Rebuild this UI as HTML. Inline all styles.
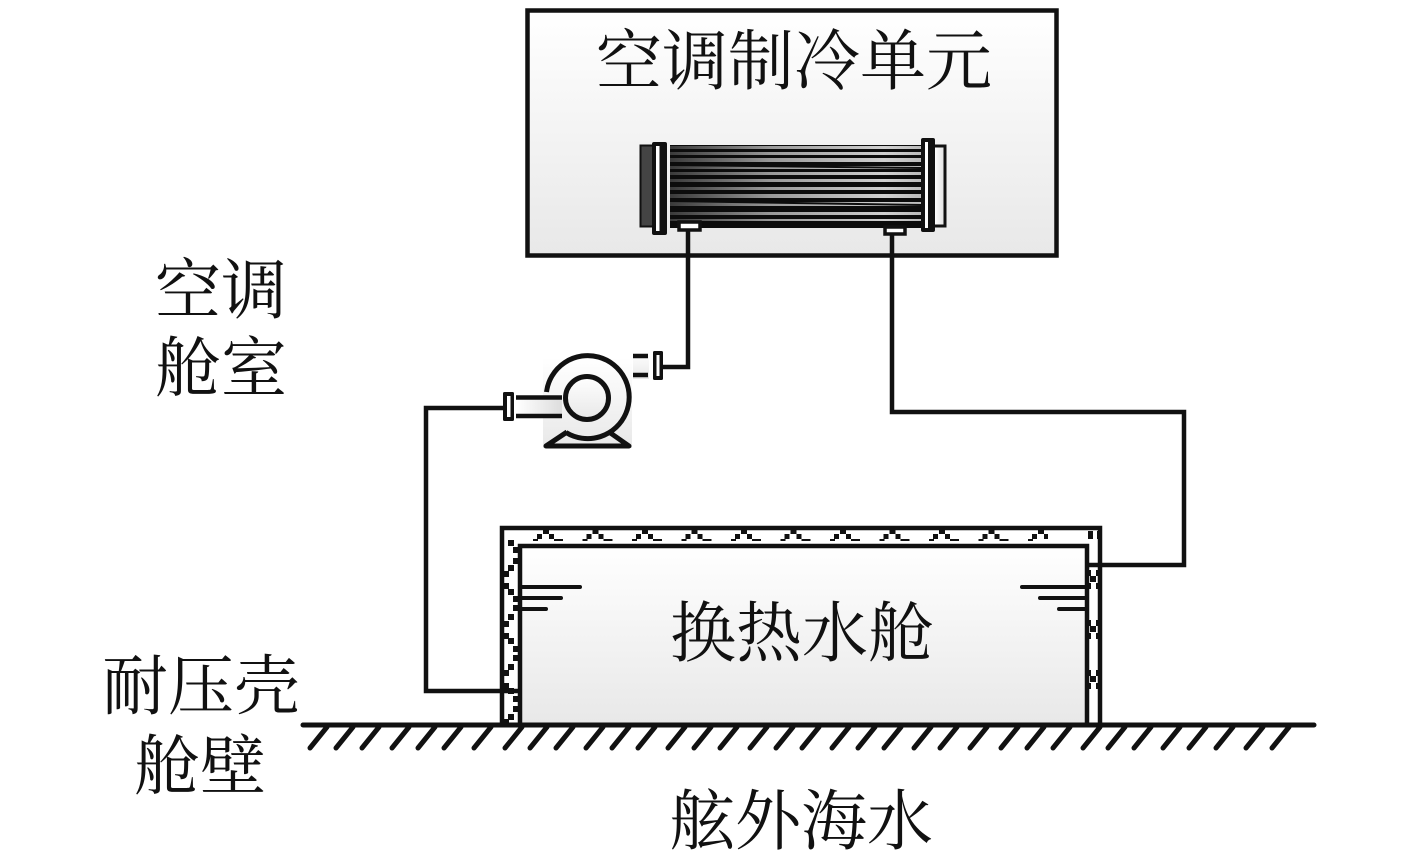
<!DOCTYPE html>
<html>
<head>
<meta charset="utf-8">
<style>
html,body{margin:0;padding:0;background:#fff;}
svg{display:block;}
text{font-family:"Liberation Serif","Noto Serif CJK SC",serif;fill:#111;font-size:66px;}
</style>
</head>
<body>
<svg width="1417" height="860" viewBox="0 0 1417 860" xmlns="http://www.w3.org/2000/svg">
<defs>
<linearGradient id="g" x1="0" y1="0" x2="0" y2="1"><stop offset="0" stop-color="#fff"/><stop offset="1" stop-color="#e8e8e8"/></linearGradient>
<linearGradient id="s" x1="0" y1="0" x2="1" y2="0"><stop offset="0" stop-color="#3a3a3a"/><stop offset="0.4" stop-color="#999"/><stop offset="0.85" stop-color="#d0d0d0"/><stop offset="1" stop-color="#bbb"/></linearGradient>
<linearGradient id="c" x1="0" y1="0" x2="1" y2="0"><stop offset="0" stop-color="#fff"/><stop offset="1" stop-color="#ddd"/></linearGradient>
<pattern id="top" x="533" y="528" width="49.5" height="16" patternUnits="userSpaceOnUse">
<rect x="0" y="11" width="5" height="2" fill="#111"/><rect x="4" y="6" width="5" height="5" fill="#111"/><rect x="10" y="2" width="6" height="4" fill="#111"/><rect x="16" y="6" width="5" height="5" fill="#111"/><rect x="21" y="11" width="9" height="2" fill="#111"/>
</pattern>
</defs>

<!-- top unit -->
<rect x="527.5" y="10.5" width="529" height="245" fill="url(#g)" stroke="#111" stroke-width="4.5"/>
<text x="596" y="84">空调制冷单元</text>

<!-- heat exchanger -->
<rect x="640.5" y="145.500" width="13" height="81" fill="#444" stroke="#111" stroke-width="2"/>
<rect x="670" y="145" width="252" height="83" fill="#0c0c0c"/>
<g fill="url(#s)">
<rect x="670" y="146" width="252" height="3"/>
<rect x="670" y="152" width="252" height="3"/>
<rect x="670" y="158" width="252" height="4"/>
<rect x="670" y="166" width="252" height="3"/>
<rect x="670" y="172" width="252" height="3"/>
<rect x="670" y="179" width="252" height="3"/>
<rect x="670" y="187" width="252" height="3"/>
<rect x="670" y="194" width="252" height="4"/>
<rect x="670" y="202" width="252" height="4"/>
<rect x="670" y="212" width="252" height="3"/>
<rect x="670" y="219" width="252" height="2"/>
</g>
<path d="M670 165L922 168M670 201L922 205" stroke="#0c0c0c" stroke-width="2"/>
<rect x="652" y="142" width="15" height="93" rx="2" fill="#111"/>
<rect x="656" y="146" width="3.500" height="85" fill="#fff"/>
<rect x="921" y="138" width="14" height="94" rx="2" fill="#111"/>
<rect x="925" y="142" width="3" height="86" fill="#fff"/>
<path d="M935 146H945V226H935" fill="url(#c)" stroke="#111" stroke-width="3"/>
<rect x="679" y="222" width="21" height="8" fill="#fff" stroke="#111" stroke-width="3.500"/>
<rect x="885" y="227" width="20" height="7" fill="#fff" stroke="#111" stroke-width="3.500"/>

<!-- pump -->
<rect x="543" y="358" width="89" height="90" fill="url(#g)"/>
<rect x="633" y="353" width="16" height="26" fill="url(#g)"/>
<rect x="516" y="396" width="46" height="21" fill="url(#c)"/>
<path d="M546.500 392A41.500 41.500 0 1 1 566 432.500" fill="none" stroke="#111" stroke-width="5"/>
<circle cx="587" cy="398" r="21.500" fill="url(#g)" stroke="#111" stroke-width="5"/>
<path d="M516 397.500H562M516 416H562" stroke="#111" stroke-width="4.500"/>
<path d="M567 432L546 446H629L609 432" fill="none" stroke="#111" stroke-width="5" stroke-linejoin="round"/>
<rect x="503" y="392" width="11" height="29" rx="1.500" fill="#111"/>
<rect x="507" y="396" width="3.500" height="21" fill="#fff"/>
<rect x="653" y="351" width="10" height="29" rx="1.500" fill="#111"/>
<rect x="656.500" y="355" width="3" height="21" fill="#fff"/>
<path d="M633 356H648M633 375H648" stroke="#111" stroke-width="4.500"/>

<!-- tank -->
<rect x="502" y="528" width="598" height="197" fill="#fff" stroke="#111" stroke-width="4.500"/>
<rect x="520" y="546" width="567" height="179" fill="url(#g)" stroke="#111" stroke-width="4.500"/>
<rect x="533" y="529" width="515" height="15" fill="url(#top)"/>

<!-- left wall hatch -->
<g fill="#111">
<rect x="508" y="540" width="6" height="6"/><rect x="513" y="547" width="6" height="6"/>
<rect x="513" y="558" width="6" height="6"/><rect x="508" y="565" width="6" height="6"/>
<rect x="503" y="571" width="6" height="6"/><rect x="503" y="583" width="6" height="6"/>
<rect x="508" y="589" width="6" height="6"/><rect x="513" y="596" width="6" height="6"/>
<rect x="513" y="605" width="6" height="6"/><rect x="508" y="614" width="6" height="6"/>
<rect x="503" y="621" width="6" height="6"/><rect x="503" y="633" width="6" height="6"/>
<rect x="508" y="638" width="6" height="6"/><rect x="513" y="646" width="6" height="6"/>
<rect x="513" y="655" width="6" height="6"/><rect x="508" y="664" width="6" height="6"/>
<rect x="503" y="670" width="6" height="6"/><rect x="503" y="683" width="6" height="6"/>
<rect x="508" y="688" width="6" height="6"/><rect x="513" y="696" width="6" height="6"/>
<rect x="513" y="706" width="6" height="6"/><rect x="508" y="714" width="6" height="6"/>
<rect x="503" y="719" width="6" height="6"/>
<!-- right wall hatch -->
<rect x="1088" y="531" width="5" height="8"/><rect x="1097" y="531" width="4" height="8"/>
<rect x="1090" y="576" width="6" height="6"/><rect x="1088" y="570" width="3" height="6"/><rect x="1096" y="570" width="4" height="6"/><rect x="1088" y="583" width="3" height="6"/><rect x="1096" y="583" width="4" height="6"/>
<rect x="1090" y="626" width="6" height="6"/><rect x="1088" y="620" width="3" height="6"/><rect x="1096" y="620" width="4" height="6"/><rect x="1088" y="633" width="3" height="6"/><rect x="1096" y="633" width="4" height="6"/>
<rect x="1090" y="676" width="6" height="6"/><rect x="1088" y="670" width="3" height="6"/><rect x="1096" y="670" width="4" height="6"/><rect x="1088" y="683" width="3" height="6"/><rect x="1096" y="683" width="4" height="6"/>
</g>

<!-- pipes -->
<path d="M688 231V367H663" fill="none" stroke="#111" stroke-width="4.500"/>
<path d="M892 234V412H1184V565H1087" fill="none" stroke="#111" stroke-width="4.500"/>
<path d="M503 408H426V691H520" fill="none" stroke="#111" stroke-width="4.500"/>

<!-- water level -->
<path d="M520 587H580M520 598H561M520 609H546M1022 587H1087M1040 598H1087M1059 609H1087" stroke="#111" stroke-width="4" stroke-linecap="round"/>

<!-- ground -->
<path d="M303 725H1314" stroke="#111" stroke-width="5" stroke-linecap="round"/>
<g stroke="#111" stroke-width="5" stroke-linecap="round">
<path d="M310 748l17-21M336 748l17-21M362 748l17-21M392 748l17-21M418 748l17-21M444 748l17-21M474 748l17-21M505 748l17-21M530 748l17-21M556 748l17-21M586 748l17-21M612 748l17-21M638 748l17-21M668 748l17-21M694 748l17-21M720 748l17-21M750 748l17-21M776 748l17-21M802 748l17-21M832 748l17-21M858 748l17-21M884 748l17-21M914 748l17-21M940 748l17-21M970 748l17-21M1001 748l17-21M1027 748l17-21M1053 748l17-21M1083 748l17-21M1108 748l17-21M1134 748l17-21M1163 748l17-21M1189 748l17-21M1216 748l17-21M1246 748l17-21M1272 748l17-21"/>
</g>

<!-- labels -->
<text x="155" y="313">空调</text>
<text x="155" y="391">舱室</text>
<text x="102" y="709">耐压壳</text>
<text x="134" y="789">舱壁</text>
<text x="670" y="656">换热水舱</text>
<text x="669" y="844">舷外海水</text>
</svg>
</body>
</html>
